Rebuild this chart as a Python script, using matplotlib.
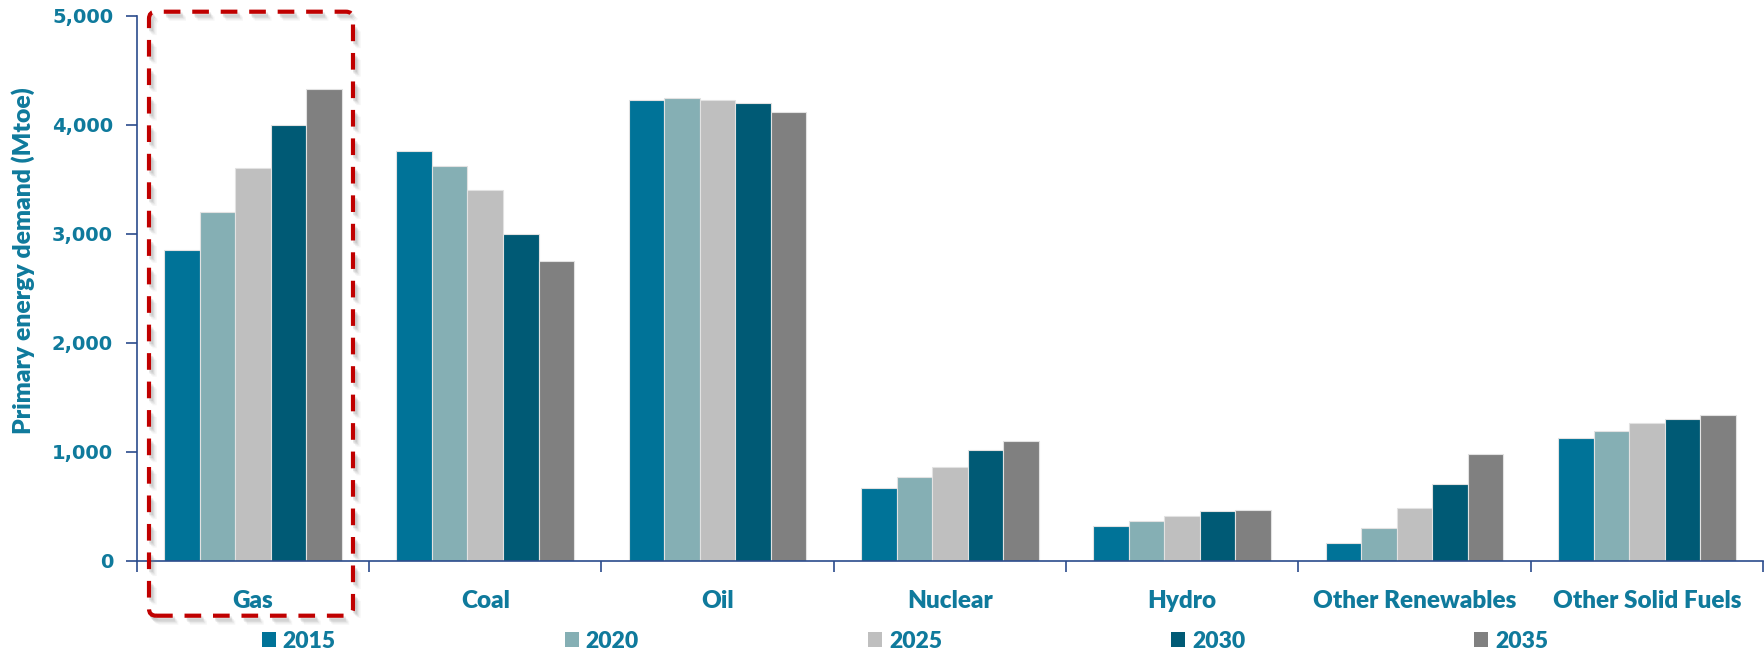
import matplotlib
matplotlib.use("Agg")
import matplotlib.pyplot as plt
import matplotlib.patheffects as pe
from matplotlib.patches import FancyBboxPatch
import numpy as np

# Primary energy demand by fuel (Mtoe)
categories = ["Gas", "Coal", "Oil", "Nuclear", "Hydro", "Other Renewables", "Other Solid Fuels"]
years = ["2015", "2020", "2025", "2030", "2035"]
demand_2015 = [2855, 3760, 4225, 665, 322, 166, 1125]
demand_2020 = [3198, 3620, 4250, 768, 362, 297, 1192]
demand_2025 = [3605, 3407, 4225, 862, 414, 481, 1260]
demand_2030 = [4000, 2998, 4198, 1020, 454, 702, 1297]
demand_2035 = [4332, 2748, 4118, 1097, 469, 984, 1340]
series = [demand_2015, demand_2020, demand_2025, demand_2030, demand_2035]
colors = ["#007398", "#85AFB4", "#BFBFBF", "#005A75", "#808080"]
y_ticks = [0, 1000, 2000, 3000, 4000, 5000]

TEXT = "#0F7A9C"
AXIS = "#2B4C8C"
WEIGHT = "heavy"
plt.rcParams["lines.scale_dashes"] = False

W, H = 1764, 653
fig = plt.figure(figsize=(W / 100, H / 100), dpi=100)
ax_w = 1763 - 136.7
ax = fig.add_axes([136.7 / W, 1 - 560.7 / H, ax_w / W, (560.7 - 16) / H])

x = np.arange(len(categories))
bw = 0.153
offsets = (np.arange(len(years)) - 2) * bw
bars = []
for vals, col, off, yr in zip(series, colors, offsets, years):
    b = ax.bar(x + off, vals, width=bw, color=col, edgecolor="#E2E2E2",
               linewidth=0.8, label=yr, zorder=2)
    bars.append(b)

ax.set_xlim(-0.5, len(categories) - 0.5)
ax.set_ylim(0, 5000)
ax.set_yticks(y_ticks)
ax.set_yticklabels([f"{v:,}" for v in y_ticks])
for s in ["top", "right"]:
    ax.spines[s].set_visible(False)
for s in ["left", "bottom"]:
    ax.spines[s].set_color(AXIS)
    ax.spines[s].set_linewidth(1.2)

ax.tick_params(axis="y", direction="out", length=8, width=1.2, color=AXIS,
               pad=9, labelsize=14, labelcolor=TEXT)
for lab in ax.get_yticklabels():
    lab.set_fontfamily("DejaVu Sans")
    lab.set_fontweight("bold")

ax.set_xticks(x)
ax.set_xticklabels(categories, fontfamily="Lato", fontweight=WEIGHT,
                   fontsize=17.5, color=TEXT)
ax.tick_params(axis="x", which="major", length=0, pad=21)
ax.set_xticks(np.arange(len(categories) + 1) - 0.5, minor=True)
ax.tick_params(axis="x", which="minor", direction="out", length=8, width=1.2, color=AXIS)

ax.set_ylabel("Primary energy demand (Mtoe)", fontfamily="Lato", fontweight=WEIGHT,
              fontsize=17.8, color=TEXT)
ax.yaxis.set_label_coords((35 - 136.7) / ax_w, (560.7 - 261) / (560.7 - 16))

# Highlight box around the gas group
x0, x1 = 149 / W, 353 / W
y0, y1 = 1 - 615.7 / H, 1 - 11.7 / H
box = FancyBboxPatch((x0, y0), x1 - x0, y1 - y0, boxstyle="round,pad=0,rounding_size=0.004",
                     transform=fig.transFigure, facecolor="none", edgecolor="#C00000",
                     linewidth=3.0, linestyle=(0, (12, 8.5)), zorder=5,
                     mutation_aspect=W / H)
shadow = [pe.SimpleLineShadow(offset=(dx, dy), shadow_color="#7F7F7F", alpha=a)
          for dx, dy, a in [(3, -4, 0.10), (2, -3, 0.14), (1.5, -2, 0.16), (4, -5, 0.07)]]
box.set_path_effects(shadow + [pe.Normal()])
fig.add_artist(box)

leg = fig.legend(handles=bars, labels=years, loc="center", ncol=5,
                 bbox_to_anchor=(905 / W, 1 - 641 / H), frameon=False,
                 prop={"family": "Lato", "weight": WEIGHT, "size": 16.5},
                 handlelength=0.61, handleheight=0.61, handletextpad=0.3,
                 columnspacing=10.0, borderpad=0)
for t in leg.get_texts():
    t.set_color(TEXT)
for h in leg.legend_handles:
    h.set_edgecolor("none")

fig.savefig("out.png", dpi=100, facecolor="white")
